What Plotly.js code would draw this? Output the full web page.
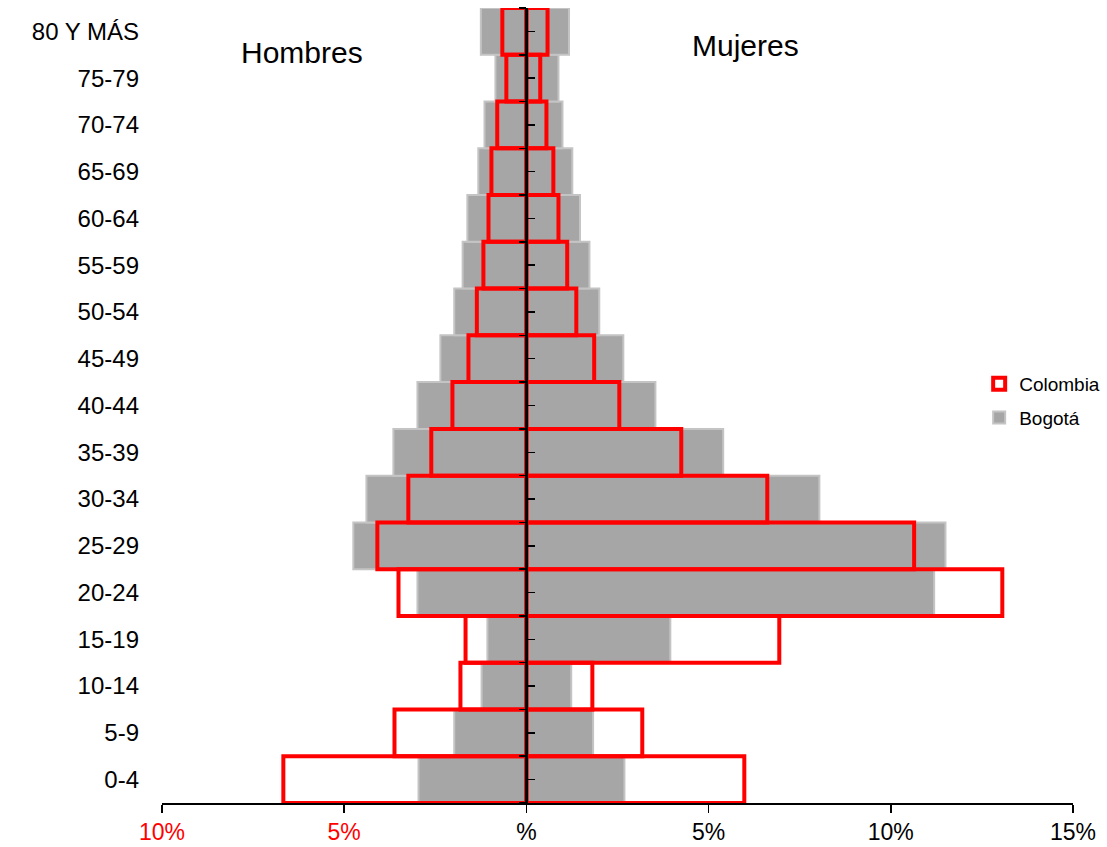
<!DOCTYPE html>
<html>
<head>
<meta charset="utf-8">
<script src="https://cdn.plot.ly/plotly-3.0.1.min.js"></script>
<style>html,body{margin:0;padding:0;background:#fff;}#chart{width:1107px;height:847px;}</style>
</head>
<body>
<div id="chart"></div>
<script>
// Age groups (bottom to top)
var categories = ["0-4","5-9","10-14","15-19","20-24","25-29","30-34","35-39","40-44","45-49","50-54","55-59","60-64","65-69","70-74","75-79","80 Y MÁS"];
// Percent of population
var bogotaHombres   = [2.96,1.98,1.23,1.07,2.99,4.75,4.39,3.65,2.99,2.36,1.98,1.75,1.62,1.32,1.15,0.85,1.25];
var bogotaMujeres   = [2.69,1.83,1.23,3.95,11.19,11.5,8.04,5.40,3.54,2.66,2.0,1.73,1.47,1.26,0.99,0.88,1.17];
var colombiaHombres = [6.67,3.62,1.81,1.67,3.51,4.09,3.24,2.61,2.03,1.59,1.36,1.18,1.04,0.96,0.80,0.55,0.66];
var colombiaMujeres = [5.98,3.18,1.81,6.94,13.06,10.64,6.61,4.25,2.55,1.86,1.37,1.12,0.88,0.74,0.55,0.38,0.58];
var xTickVals = [-10,-5,0,5,10,15];
var xTickText = ['<span style="fill:#ff0000">10%</span>','<span style="fill:#ff0000">5%</span>','%','5%','10%','15%'];

function neg(a){return a.map(function(v){return -v;});}
var catIdx = categories.map(function(c,i){return i;});
var boundaries = categories.map(function(c,i){return i-0.5;}).concat([categories.length-0.5]);

var grayStyle = {color:'#a6a6a6', line:{color:'#c4c4c4', width:2}};
var redStyle = {color:'rgba(255,255,255,0)', line:{color:'#ff0000', width:4}};

var traces = [
  {type:'bar', orientation:'h', name:'Bogotá', legendgroup:'b', legendrank:2, y:categories, x:neg(bogotaHombres), marker:grayStyle, width:1, hoverinfo:'skip'},
  {type:'bar', orientation:'h', name:'Bogotá', legendgroup:'b', legendrank:2, showlegend:false, y:categories, x:bogotaMujeres, marker:grayStyle, width:1, hoverinfo:'skip'},
  {type:'bar', orientation:'h', name:'Colombia', legendgroup:'c', legendrank:1, y:categories, x:neg(colombiaHombres), marker:redStyle, width:1, hoverinfo:'skip'},
  {type:'bar', orientation:'h', name:'Colombia', legendgroup:'c', legendrank:1, showlegend:false, y:categories, x:colombiaMujeres, marker:redStyle, width:1, hoverinfo:'skip'},
  // invisible helpers so overlay axes are drawn
  {type:'scatter', mode:'markers', x:[0], y:[0], yaxis:'y2', marker:{opacity:0}, showlegend:false, hoverinfo:'skip'},
  {type:'scatter', mode:'markers', x:[0], y:[0], yaxis:'y3', marker:{opacity:0}, showlegend:false, hoverinfo:'skip'}
];

var font = 'Liberation Sans, Arial, sans-serif';
var layout = {
  width:1107, height:847,
  margin:{l:162, r:34, t:8, b:44, autoexpand:false},
  paper_bgcolor:'#fff', plot_bgcolor:'#fff',
  barmode:'overlay', bargap:0,
  font:{family:font, color:'#000'},
  xaxis:{range:[-10,15], tickvals:xTickVals, ticktext:xTickText, showgrid:false, zeroline:false, automargin:false,
         showline:true, linecolor:'#000', linewidth:1.5, ticks:'outside', ticklen:8, tickcolor:'#000', tickwidth:1.5,
         tickfont:{size:23, family:'Liberation Sans Narrow, Arial Narrow, Liberation Sans, sans-serif'}, fixedrange:true},
  yaxis:{type:'category', categoryorder:'array', categoryarray:categories, range:[-0.5,categories.length-0.5], automargin:false,
         showgrid:false, zeroline:false, showline:false, ticks:'', ticklabelstandoff:22,
         tickfont:{size:24, family:font}, fixedrange:true},
  yaxis2:{overlaying:'y', anchor:'free', position:0.4, side:'right', range:[-0.5,categories.length-0.5], automargin:false,
          tickvals:catIdx, showticklabels:false, ticks:'outside', ticklen:7, tickwidth:1.5, tickcolor:'#000',
          showline:true, linecolor:'#000', linewidth:3, showgrid:false, zeroline:false, layer:'above traces', fixedrange:true},
  yaxis3:{overlaying:'y', anchor:'free', position:0.4, side:'left', range:[-0.5,categories.length-0.5], automargin:false,
          tickvals:boundaries, showticklabels:false, ticks:'outside', ticklen:7, tickwidth:1.5, tickcolor:'#000',
          showline:false, showgrid:false, zeroline:false, layer:'above traces', fixedrange:true},
  legend:{x:0.897, y:0.551, xanchor:'left', yanchor:'top', traceorder:'grouped', tracegroupgap:6,
          font:{size:19, family:font}, itemwidth:30, bgcolor:'rgba(0,0,0,0)'},
  annotations:[
    {text:'Hombres', xref:'paper', yref:'paper', x:0.154, y:0.944, xanchor:'center', yanchor:'middle', showarrow:false, font:{size:30, family:font}},
    {text:'Mujeres', xref:'paper', yref:'paper', x:0.64, y:0.953, xanchor:'center', yanchor:'middle', showarrow:false, font:{size:30, family:font}}
  ],
  showlegend:true
};
Plotly.newPlot('chart', traces, layout, {displayModeBar:false, staticPlot:true});
</script>
</body>
</html>
